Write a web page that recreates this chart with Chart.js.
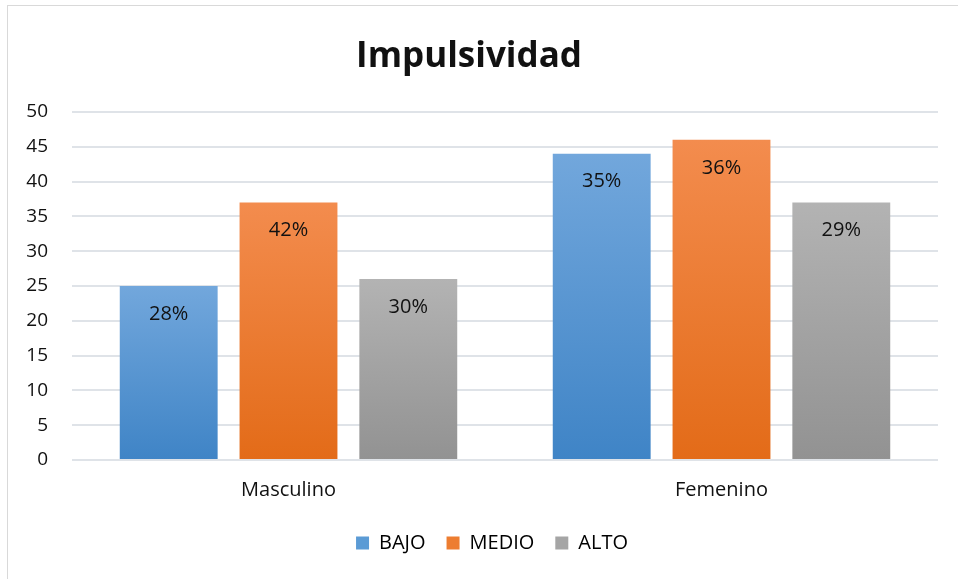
<!DOCTYPE html>
<html>
<head>
<meta charset="utf-8">
<script src="https://cdn.jsdelivr.net/npm/chart.js@4/dist/chart.umd.min.js"></script>
<style>
  html, body { margin: 0; padding: 0; background: #fff; }
  #wrap { position: relative; width: 958px; height: 579px; overflow: hidden; }
  #frame { position: absolute; left: 7px; top: 5px; width: 980px; height: 600px; border: 1px solid #d9d9d9; box-sizing: border-box; }
  canvas { position: absolute; left: 0; top: 0; }
</style>
</head>
<body>
<div id="wrap">
  <div id="frame"></div>
  <canvas id="c" width="958" height="579"></canvas>
</div>
<script>
const categories = ["Masculino", "Femenino"];
const seriesNames = ["BAJO", "MEDIO", "ALTO"];
const bajo = [25, 44];
const medio = [37, 46];
const alto = [26, 37];
const bajoPct = ["28%", "35%"];
const medioPct = ["42%", "36%"];
const altoPct = ["30%", "29%"];
const yTicks = [0, 5, 10, 15, 20, 25, 30, 35, 40, 45, 50];

const FONT = "'Open Sans', 'Noto Sans', sans-serif";
const palette = [
  { top: "#72a7dc", bottom: "#3f84c6", legend: "#5b9bd5" },
  { top: "#f38c4e", bottom: "#e36b18", legend: "#ed7d31" },
  { top: "#b3b3b3", bottom: "#929292", legend: "#a5a5a5" }
];

function gradientFor(idx) {
  return function (ctx) {
    const chart = ctx.chart;
    const area = chart.chartArea;
    if (!area || ctx.type !== "data") return palette[idx].legend;
    const y = chart.scales.y;
    const v = ctx.raw;
    const yTop = y.getPixelForValue(v);
    const yBot = y.getPixelForValue(0);
    if (!isFinite(yTop) || !isFinite(yBot) || yTop === yBot) return palette[idx].legend;
    const g = chart.ctx.createLinearGradient(0, yTop, 0, yBot);
    g.addColorStop(0, palette[idx].top);
    g.addColorStop(1, palette[idx].bottom);
    return g;
  };
}

const pctLabels = [bajoPct, medioPct, altoPct];

const labelPlugin = {
  id: "pctLabels",
  afterLayout(chart) {
    if (chart.legend) { chart.legend.left += 23; chart.legend.right += 23; }
  },
  afterDatasetsDraw(chart) {
    const c = chart.ctx;
    c.save();
    c.font = "20px " + FONT;
    c.fillStyle = "#111";
    c.textAlign = "center";
    c.textBaseline = "middle";
    chart.data.datasets.forEach((ds, di) => {
      const meta = chart.getDatasetMeta(di);
      meta.data.forEach((bar, i) => {
        c.fillText(pctLabels[di][i], bar.x, bar.y + 28);
      });
    });
    c.restore();
  }
};

const dataSets = [bajo, medio, alto].map((d, i) => ({
  label: seriesNames[i],
  data: d,
  backgroundColor: gradientFor(i),
  borderWidth: 0,
  barPercentage: 0.817,
  categoryPercentage: 0.83
}));

new Chart(document.getElementById("c"), {
  type: "bar",
  data: { labels: categories, datasets: dataSets },
  options: {
    responsive: false,
    animation: false,
    layout: { padding: { left: 0, right: 20, top: 26, bottom: 16 } },
    plugins: {
      title: {
        display: true,
        text: "Impulsividad",
        color: "#111",
        font: { family: FONT, size: 35, weight: "bold" },
        padding: { top: 10, bottom: 34 }
      },
      legend: {
        position: "bottom",
        labels: {
          color: "#111",
          font: { family: FONT, size: 20 },
          boxWidth: 13,
          boxHeight: 13,
          padding: 21,
          generateLabels(chart) {
            return chart.data.datasets.map((ds, i) => ({
              text: ds.label,
              fillStyle: palette[i].legend,
              strokeStyle: palette[i].legend,
              lineWidth: 0,
              datasetIndex: i,
              hidden: false
            }));
          }
        }
      },
      tooltip: { enabled: false }
    },
    scales: {
      x: {
        grid: { display: false, drawTicks: false },
        border: { display: false },
        afterFit(scale) { scale.height = 52; },
        ticks: { color: "#111", font: { family: FONT, size: 20 }, padding: 18 }
      },
      y: {
        min: 0,
        max: 50,
        afterBuildTicks(scale) { scale.ticks = yTicks.map(v => ({ value: v })); },
        afterFit(scale) { scale.width = 72; },
        grid: { color: "#dfe3e8", lineWidth: 2, drawTicks: false },
        border: { display: false },
        ticks: { color: "#111", font: { family: FONT, size: 19 }, padding: 24 }
      }
    }
  },
  plugins: [labelPlugin]
});
</script>
</body>
</html>
